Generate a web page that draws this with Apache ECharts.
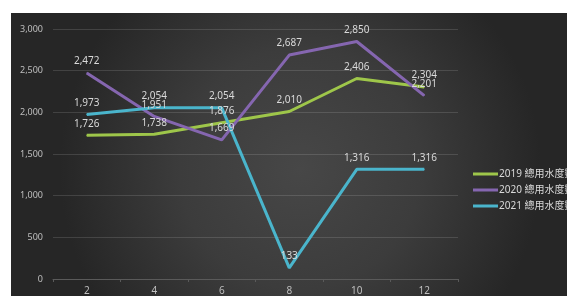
<!DOCTYPE html>
<html><head><meta charset="utf-8">
<script src="https://cdn.jsdelivr.net/npm/echarts@6/dist/echarts.min.js"></script>
<style>html,body{margin:0;padding:0;background:#fff}#c{width:567px;height:296px}</style>
</head><body><div id="c"></div>
<script>
const categories = ['2','4','6','8','10','12'];
const seriesNames = ['2019 總用水度數','2020 總用水度數','2021 總用水度數'];
const values2019 = [1726, 1738, 1876, 2010, 2406, 2304];
const values2020 = [2472, 1951, 1669, 2687, 2850, 2201];
const values2021 = [1973, 2054, 2054, 133, 1316, 1316];
const colors = ['#9ec64a', '#8566b0', '#4ab5cc'];

const font = '"Noto Sans", "Noto Sans CJK TC", sans-serif';
const fmt = v => v.toLocaleString('en-US');
const chart = echarts.init(document.getElementById('c'), null, {renderer:'canvas'});
const mk = (name, data, color) => ({
  name, type: 'line', data, symbol: 'circle', symbolSize: 1,
  itemStyle: {color}, lineStyle: {color, width: 3}, animation: false,
  label: {show: true, position: 'top', distance: 6, color: '#d9d9d9', fontSize: 10,
    fontFamily: font, formatter: p => fmt(p.value)}
});
chart.setOption({
  backgroundColor: '#ffffff',
  animation: false,
  graphic: [{type: 'rect', z: -10, silent: true, shape: {x: 11, y: 13, width: 556, height: 283},
    style: {fill: new echarts.graphic.RadialGradient(0.52, 0.55, 0.85, [
      {offset: 0, color: '#474747'}, {offset: 0.5, color: '#3c3c3c'}, {offset: 1, color: '#262626'}])}}],
  color: colors,
  grid: {left: 53, right: 109, top: 29, bottom: 17},
  legend: {orient: 'vertical', left: 468, top: 164, itemGap: 6, itemWidth: 25, itemHeight: 3,
    icon: 'rect', textStyle: {color: '#d9d9d9', fontSize: 10, fontFamily: font, padding: [0,0,0,-4]},
    data: seriesNames},
  xAxis: {type: 'category', data: categories, boundaryGap: true,
    axisLine: {lineStyle: {color: '#5a5a5a', width: 1}},
    axisTick: {show: true, length: 3, lineStyle: {color: '#5a5a5a'}},
    axisLabel: {color: '#bfbfbf', fontSize: 10, fontFamily: font, margin: 7}},
  yAxis: {type: 'value', min: 0, max: 3000, interval: 500,
    axisLine: {show: false}, axisTick: {show: false},
    splitLine: {lineStyle: {color: 'rgba(255,255,255,0.13)', width: 1}},
    axisLabel: {color: '#bfbfbf', fontSize: 9, fontFamily: font, margin: 10, formatter: fmt}},
  series: [mk(seriesNames[0], values2019, colors[0]), mk(seriesNames[1], values2020, colors[1]),
    mk(seriesNames[2], values2021, colors[2])]
});
</script></body></html>
